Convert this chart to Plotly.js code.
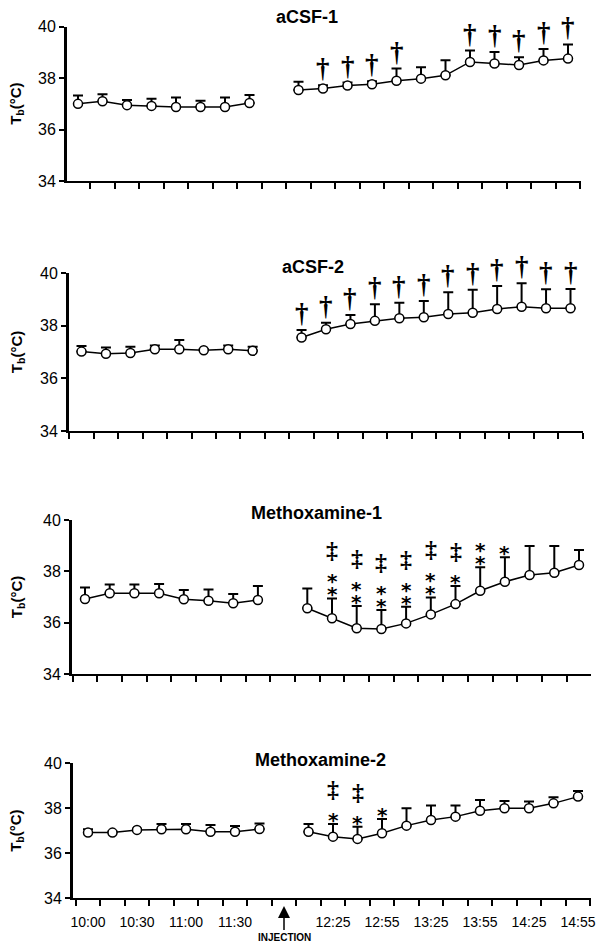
<!DOCTYPE html>
<html><head><meta charset="utf-8">
<script src="https://cdn.plot.ly/plotly-3.0.1.min.js"></script>
<style>body{margin:0;background:#fff}#chart{width:596px;height:945px}</style>
</head><body><div id="chart"></div>
<script>
// ---- data ----
const times = ["10:00","10:15","10:30","10:45","11:00","11:15","11:30","11:45","INJ",
  "12:10","12:25","12:40","12:55","13:10","13:25","13:40","13:55","14:10","14:25","14:40","14:55"];
const tickLabels = ["10:00","10:30","11:00","11:30","12:25","12:55","13:25","13:55","14:25","14:55"];
const panelTitles = ["aCSF-1","aCSF-2","Methoxamine-1","Methoxamine-2"];
const injectionLabel = "INJECTION";
const yTicks = [34,36,38,40];

const acsf1Mean = [37.0,37.1,36.95,36.92,36.88,36.88,36.88,37.03,null,
  37.54,37.60,37.71,37.76,37.90,37.98,38.11,38.63,38.57,38.51,38.69,38.76];
const acsf1Err = [0.32,0.27,0.2,0.28,0.37,0.24,0.37,0.31,null,
  0.32,0.12,0.12,0.12,0.47,0.44,0.59,0.44,0.45,0.30,0.44,0.55];
const acsf1Sig = ["","","","","","","","","","","†","†","†","†","","","†","†","†","†","†"];

const acsf2Mean = [37.02,36.94,36.97,37.11,37.11,37.07,37.11,37.05,null,
  37.56,37.87,38.07,38.19,38.29,38.33,38.45,38.50,38.64,38.73,38.67,38.67];
const acsf2Err = [0.21,0.24,0.24,0.14,0.35,0.04,0.14,0.16,null,
  0.28,0.25,0.34,0.63,0.59,0.62,0.83,0.87,0.88,0.89,0.72,0.73];
const acsf2Sig = ["","","","","","","","","","†","†","†","†","†","†","†","†","†","†","†","†"];

const meth1Mean = [36.93,37.15,37.15,37.15,36.92,36.86,36.76,36.89,null,
  36.57,36.18,35.79,35.76,35.98,36.33,36.73,37.25,37.60,37.86,37.95,38.25];
const meth1Err = [0.45,0.34,0.34,0.36,0.36,0.44,0.36,0.54,null,
  0.77,0.77,0.87,0.74,0.65,0.66,0.70,0.91,0.95,1.13,1.04,0.58];
const meth1Sig = ["","","","","","","","","","","‡**","‡**","‡**","‡**","‡**","‡*","**","*","","",""];

const meth2Mean = [36.92,36.92,37.04,37.07,37.07,36.96,36.96,37.08,null,
  36.96,36.74,36.64,36.89,37.23,37.48,37.63,37.89,38.0,38.0,38.22,38.52];
const meth2Err = [0.15,0.05,0.05,0.23,0.23,0.30,0.25,0.25,null,
  0.34,0.56,0.54,0.63,0.77,0.64,0.49,0.48,0.32,0.30,0.27,0.25];
const meth2Sig = ["","","","","","","","","","","‡*","‡*","*","","","","","","","",""];

const means = [acsf1Mean, acsf2Mean, meth1Mean, meth2Mean];
const errs = [acsf1Err, acsf2Err, meth1Err, meth2Err];
const sigs = [acsf1Sig, acsf2Sig, meth1Sig, meth2Sig];

// ---- layout geometry (pixels) ----
const W = 596, H = 945;
const geo = [
  {xl:67, xr:580.5, x0:78,  sp:24.5,  yt:26.7,  yb:181,   tx:307, ty:17},
  {xl:69, xr:582.7, x0:81.5,sp:24.45, yt:273.3, yb:431,   tx:313, ty:267},
  {xl:72, xr:591,   x0:85,  sp:24.7,  yt:520,   yb:674.3, tx:316, ty:513},
  {xl:73, xr:591,   x0:88,  sp:24.5,  yt:763.3, yb:898.3, tx:320, ty:760}
];
const FONT = "Liberation Sans, Arial, sans-serif";
const DAGFONT = "Liberation Serif";
const ASTFONT = "DejaVu Sans";
const idx = times.map((t,i)=>i);
const boundaries = idx.map(i=>i-0.5).concat([times.length-0.5]);

const traces = [];
const annotations = [];
const layout = {
  width: W, height: H, margin:{l:0,r:0,t:0,b:0},
  paper_bgcolor:'white', plot_bgcolor:'white', showlegend:false,
  font:{family:FONT, color:'black'}
};

geo.forEach((g,p)=>{
  const sfx = p===0 ? '' : String(p+1);
  const xa = 'xaxis'+sfx, ya = 'yaxis'+sfx;
  const xr = 'x'+sfx, yr = 'y'+sfx;
  layout[xa] = {
    domain:[g.xl/W, g.xr/W],
    range:[(g.xl-g.x0)/g.sp, (g.xr-g.x0)/g.sp],
    anchor: yr, showgrid:false, zeroline:false,
    showline:true, linecolor:'black', linewidth:2,
    ticks:'', tickmode:'array',
    tickvals: tickLabels.map(t=>times.indexOf(t)), ticktext: tickLabels,
    showticklabels: p===3, tickfont:{size:14, family:FONT, color:'black'},
    ticklabelstandoff: 10,
    minor:{tickmode:'array', tickvals:boundaries, ticks:'outside', ticklen:6, tickwidth:2, tickcolor:'black', showgrid:false},
    fixedrange:true
  };
  layout[ya] = {
    domain:[1-g.yb/H, 1-g.yt/H], range:[34,40], anchor:xr,
    showgrid:false, zeroline:false, showline:true, linecolor:'black', linewidth:3,
    ticks:'outside', ticklen:5, tickwidth:2, tickcolor:'black',
    tickmode:'array', tickvals:yTicks, ticktext:yTicks.map(String),
    tickfont:{size:16, family:FONT, color:'black'}, fixedrange:true
  };
  traces.push({
    type:'scatter', mode:'lines+markers', x: idx, y: means[p], xaxis:xr, yaxis:yr,
    connectgaps:false, cliponaxis:false,
    line:{color:'black', width:1.5},
    marker:{symbol:'circle', size:9, color:'white', line:{color:'black', width:1.5}},
    error_y:{type:'data', symmetric:false, array: errs[p], arrayminus: errs[p].map(e=>e===null?null:0),
      width:5, thickness:2, color:'black'}
  });
  annotations.push({
    xref:'paper', yref:'paper', x:g.tx/W, y:1-g.ty/H, text:'<b>'+panelTitles[p]+'</b>',
    showarrow:false, xanchor:'center', yanchor:'middle', font:{size:18, family:FONT, color:'black'}
  });
  annotations.push({
    xref:'paper', yref:'paper', x:17/W, y:1-((g.yt+g.yb)/2)/H, text:'<b>T<sub>b</sub>(°C)</b>',
    textangle:-90, showarrow:false, xanchor:'center', yanchor:'middle', font:{size:15, family:FONT, color:'black'}
  });
  sigs[p].forEach((s,i)=>{
    if(!s) return;
    const cap = means[p][i] + errs[p][i];
    const n = (s.match(/\*/g)||[]).length;
    for(let k=0;k<n;k++){
      annotations.push({xref:xr, yref:yr, x:i, y:cap, text:'<b>*</b>', showarrow:false,
        xanchor:'center', yanchor:'middle', yshift: 9+13*k-5,
        font:{size:20, family:ASTFONT, color:'black'}});
    }
    const d = s.replace(/\*/g,'');
    if(d){
      const ys = n>0 ? (9+13*(n-1)+26) : 17;
      annotations.push({xref:xr, yref:yr, x:i, y:cap, text:'<b>'+d+'</b>', showarrow:false,
        xanchor:'center', yanchor:'middle', yshift: ys,
        font:{size: d==='†'?27:24, family:DAGFONT, color:'black'}});
    }
  });
});

// injection arrow
annotations.push({
  xref:'x4', yref:'paper', x: times.indexOf("INJ"), y: 1-906/H,
  text:'<b>'+injectionLabel+'</b>', showarrow:true, ax:0, ay:31, axref:'pixel', ayref:'pixel',
  arrowhead:2, arrowsize:1.6, arrowwidth:1.5, arrowcolor:'black',
  font:{size:10, family:FONT, color:'black'}
});

layout.annotations = annotations;
Plotly.newPlot('chart', traces, layout, {staticPlot:true, displayModeBar:false});
</script></body></html>
